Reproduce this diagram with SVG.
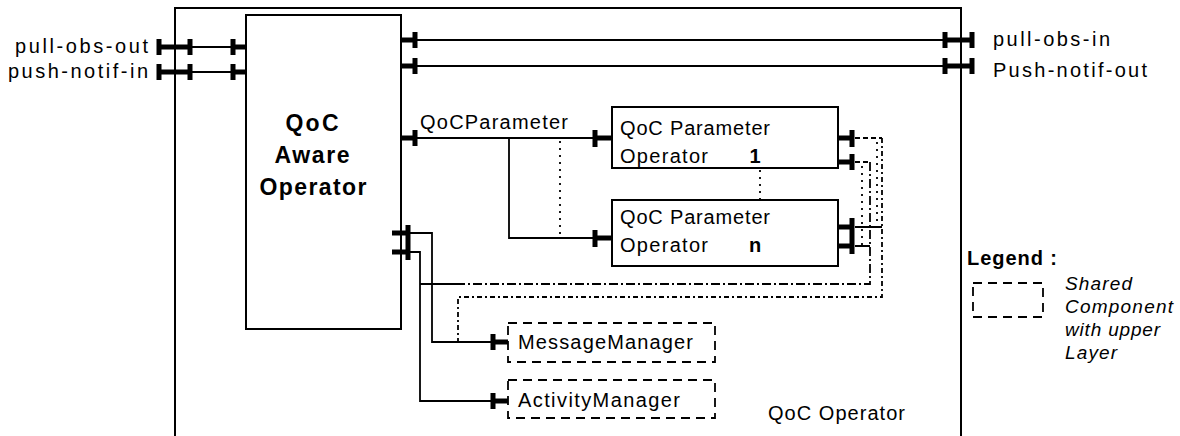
<svg xmlns="http://www.w3.org/2000/svg" width="1180" height="436" viewBox="0 0 1180 436">
<style>
  text { font-family: "Liberation Sans", Arial, Helvetica, sans-serif; fill: #000; }
  .lbl { font-size: 20px; }
  .bold { font-size: 23px; font-weight: bold; }
  .ital { font-size: 19px; font-style: italic; }
  .box { fill: #fff; stroke: #000; stroke-width: 2; }
  .dbox { fill: #fff; stroke: #000; stroke-width: 1.8; stroke-dasharray: 9 6; }
  .wire { fill: none; stroke: #000; stroke-width: 1.8; }
  .dash { fill: none; stroke: #000; stroke-width: 1.8; stroke-dasharray: 5 3; }
  .dot { fill: none; stroke: #000; stroke-width: 1.8; stroke-dasharray: 2 5; }
  .dd1 { fill: none; stroke: #000; stroke-width: 1.8; stroke-dasharray: 9 3 2 3; }
  .dd2 { fill: none; stroke: #000; stroke-width: 1.8; stroke-dasharray: 5 3 2 3; }
  .stub { fill: none; stroke: #000; stroke-width: 5; }
  .bar { fill: none; stroke: #000; stroke-width: 5; }
</style>

<g id="qoc-operator">
  <path d="M175,436 V8 H961 V436" fill="none" stroke="#000" stroke-width="2"/>
  <text class="lbl" x="768" y="420" textLength="137" lengthAdjust="spacing">QoC Operator</text>
</g>

<g id="qoc-aware-operator">
  <rect class="box" x="246" y="15" width="155" height="314"/>
  <text class="bold" x="312" y="131" text-anchor="middle" textLength="53" lengthAdjust="spacing">QoC</text>
  <text class="bold" x="312" y="163" text-anchor="middle" textLength="75" lengthAdjust="spacing">Aware</text>
  <text class="bold" x="313" y="195" text-anchor="middle" textLength="107" lengthAdjust="spacing">Operator</text>
</g>

<g id="qoc-parameter-operator-1">
  <rect class="box" x="612" y="107" width="226" height="61"/>
  <text class="lbl" x="620" y="135" textLength="150" lengthAdjust="spacing">QoC Parameter</text>
  <text class="lbl" x="620" y="163" textLength="88" lengthAdjust="spacing">Operator</text>
  <text class="lbl" x="755" y="163" font-weight="bold" text-anchor="middle">1</text>
</g>

<g id="qoc-parameter-operator-n">
  <rect class="box" x="612" y="200" width="226" height="66"/>
  <text class="lbl" x="620" y="224" textLength="150" lengthAdjust="spacing">QoC Parameter</text>
  <text class="lbl" x="620" y="252" textLength="88" lengthAdjust="spacing">Operator</text>
  <text class="lbl" x="755" y="252" font-weight="bold" text-anchor="middle">n</text>
</g>

<g id="message-manager">
  <rect class="dbox" x="508" y="323" width="207" height="39"/>
  <text class="lbl" x="518" y="349" textLength="175" lengthAdjust="spacing">MessageManager</text>
</g>

<g id="activity-manager">
  <rect class="dbox" x="508" y="380" width="207" height="38"/>
  <text class="lbl" x="518" y="407" textLength="162" lengthAdjust="spacing">ActivityManager</text>
</g>

<g id="legend">
  <text class="lbl" x="967" y="265" font-weight="bold" textLength="90" lengthAdjust="spacing">Legend :</text>
  <rect class="dbox" x="973" y="283" width="70" height="34" stroke-dasharray="8 6"/>
  <text class="ital" x="1065" y="290" textLength="67" lengthAdjust="spacing">Shared</text>
  <text class="ital" x="1065" y="313" textLength="108" lengthAdjust="spacing">Component</text>
  <text class="ital" x="1065" y="336" textLength="95" lengthAdjust="spacing">with upper</text>
  <text class="ital" x="1065" y="359" textLength="52" lengthAdjust="spacing">Layer</text>
</g>

<g id="external-labels">
  <text class="lbl" x="148" y="53" text-anchor="end" textLength="133" lengthAdjust="spacing">pull-obs-out</text>
  <text class="lbl" x="148" y="78" text-anchor="end" textLength="140" lengthAdjust="spacing">push-notif-in</text>
  <text class="lbl" x="993" y="46" textLength="117" lengthAdjust="spacing">pull-obs-in</text>
  <text class="lbl" x="993" y="77" textLength="154" lengthAdjust="spacing">Push-notif-out</text>
  <text class="lbl" x="420" y="129" textLength="148" lengthAdjust="spacing">QoCParameter</text>
</g>

<g id="connectors">
  <!-- left external ports -->
  <path class="wire" d="M190,47 H233 M190,72 H233"/>
  <path class="stub" d="M159,47 H190 M233,47 H246 M159,72 H190 M233,72 H246"/>
  <path class="bar" d="M159,39 V55 M190,39 V55 M233,39 V55 M159,64 V80 M190,64 V80 M233,64 V80"/>

  <!-- right external ports -->
  <path class="wire" d="M415,40 H945 M415,66 H945"/>
  <path class="stub" d="M401,40 H415 M401,66 H415 M945,40 H972 M945,66 H972"/>
  <path class="bar" d="M415,32 V48 M415,58 V74 M945,32 V48 M972,32 V48 M945,58 V74 M972,58 V74"/>

  <!-- QoCParameter -->
  <path class="wire" d="M415,138 H595 M509,138 V238 H595"/>
  <path class="dot" d="M560,141 V237"/>
  <path class="dot" d="M760,170 V200"/>
  <path class="stub" d="M401,138 H415 M595,138 H612 M595,238 H612"/>
  <path class="bar" d="M415,130 V146 M595,130 V147 M595,230 V247"/>

  <!-- parameter operator right ports -->
  <path class="stub" d="M838,138 H853 M838,162 H853 M838,227 H853 M838,246 H853"/>
  <path class="bar" d="M852,130 V147 M852,154 V170 M852,218 V254"/>
  <path class="dash" d="M855,138 H882 M855,162 H870"/>
  <path class="wire" d="M855,227 H882 M855,246 H870"/>
  <path class="dot" d="M862,166 V246 M877,142 V227"/>
  <path class="dd1" d="M870,162 V284 H457"/>
  <path class="wire" d="M457,284 H420"/>
  <path class="dd2" d="M882,138 V297 H458 V342"/>

  <!-- aware operator lower ports -->
  <path class="wire" d="M410,233 H432 V342 H493 M410,252 H420 V401 H493"/>
  <path class="stub" d="M392,233 H409 M392,252 H409 M493,342 H508 M493,401 H508"/>
  <path class="bar" d="M408,225 V260 M493,334 V350 M493,393 V409"/>
</g>
</svg>
